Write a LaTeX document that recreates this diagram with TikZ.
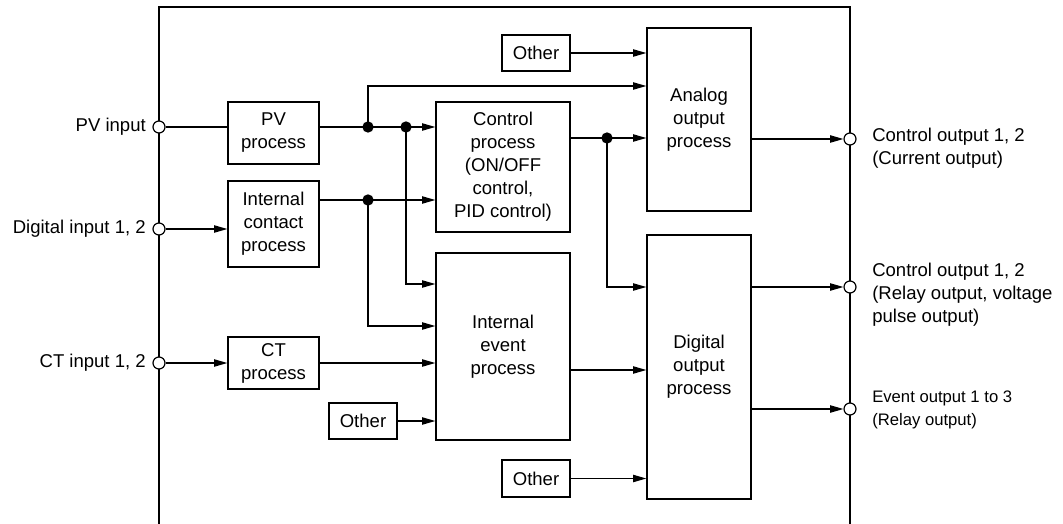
\documentclass[tikz,border=0pt]{standalone}
\usepackage{fontspec}
\setmainfont{Liberation Sans}
\usetikzlibrary{arrows.meta}
\begin{document}
\begin{tikzpicture}[x=0.75pt,y=-0.75pt,
 box/.style={draw,line width=1pt,inner sep=0pt,align=center,font=\fontsize{13.9pt}{17.25pt}\selectfont},
 port/.style={circle,draw,fill=white,line width=0.9pt,minimum size=9pt,inner sep=0pt},
 dot/.style={circle,fill,minimum size=8.5pt,inner sep=0pt},
 con/.style={line width=0.9pt},
 arr/.style={con,-{Triangle[length=10pt,width=5.5pt]}},
 lbl/.style={inner sep=0pt,font=\fontsize{13.9pt}{17.25pt}\selectfont,align=left},
 lbls/.style={inner sep=0pt,font=\fontsize{12.5pt}{17.25pt}\selectfont,align=left},
]
\useasboundingbox (0,0) rectangle (1063,524);
\draw[line width=2.2pt] (159,524) -- (159,7) -- (850,7) -- (850,524);

% boxes
\node[box,minimum width=68.25pt,minimum height=46.5pt] (pv) at (273.5,133) {PV\\process};
\node[box,minimum width=68.25pt,minimum height=64.5pt] (ic) at (273.5,224) {Internal\\contact\\process};
\node[box,minimum width=68.25pt,minimum height=39pt] (ct) at (273.5,363) {CT\\process};
\node[box,minimum width=100.5pt,minimum height=97.5pt] (ctrl) at (503,167) {Control\\process\\(ON/OFF\\control,\\PID control)};
\node[box,minimum width=51pt,minimum height=27pt] (o1) at (536,53) {Other};
\node[box,minimum width=78pt,minimum height=137.25pt] (an) at (699,119.5) {Analog\\output\\process};
\node[box,minimum width=100.5pt,minimum height=140.25pt] (ie) at (503,346.5) {Internal\\event\\process};
\node[box,minimum width=51pt,minimum height=27pt] (o2) at (363,421) {Other};
\node[box,minimum width=51pt,minimum height=27.75pt] (o3) at (536,478.5) {Other};
\node[box,minimum width=78pt,minimum height=198pt] (dg) at (699,367) {Digital\\output\\process};

% ports
\node[port] (pin) at (159,127) {};
\node[port] (din) at (159,229) {};
\node[port] (ctin) at (159,363) {};
\node[port] (out1) at (850,139) {};
\node[port] (out2) at (850,287) {};
\node[port] (out3) at (850,409) {};

% junction coordinates
\coordinate (j1) at (368,127);
\coordinate (j2) at (406,127);
\coordinate (j3) at (368,200);
\coordinate (j4) at (607,138);
\coordinate (k1) at (368,86);
\coordinate (k2) at (406,284);
\coordinate (k3) at (368,326);
\coordinate (k4) at (607,287);
\coordinate (ctrlout) at (570,138);
\coordinate (icout) at (319,200);
\coordinate (ieout) at (570,370);

% connectors
\draw[con] (pin.east) -- (pin -| pv.west);
\draw[arr] (din.east) -- (din -| ic.west);
\draw[arr] (ctin.east) -- (ctin -| ct.west);
\draw[arr] (pin -| pv.east) -- (pin -| ctrl.west);
\draw[arr] (j1) -- (k1) -- (k1 -| an.west);
\draw[arr] (j2) -- (k2) -- (k2 -| ie.west);
\draw[arr] (icout) -- (icout -| ctrl.west);
\draw[arr] (j3) -- (k3) -- (k3 -| ie.west);
\draw[arr] (ctin -| ct.east) -- (ctin -| ie.west);
\draw[arr] (o2.east) -- (o2.east -| ie.west);
\draw[arr] (o1.east) -- (o1.east -| an.west);
\draw[arr] (ctrlout) -- (ctrlout -| an.west);
\draw[arr] (j4) -- (k4) -- (k4 -| dg.west);
\draw[arr] (ieout) -- (ieout -| dg.west);
\draw[arr] (o3.east) -- (o3.east -| dg.west);
\draw[arr] (out1 -| an.east) -- (out1.west);
\draw[arr] (out2 -| dg.east) -- (out2.west);
\draw[arr] (out3 -| dg.east) -- (out3.west);

% dots
\node[dot] (d1) at (j1) {};
\node[dot] (d2) at (j2) {};
\node[dot] (d3) at (j3) {};
\node[dot] (d4) at (j4) {};

% labels
\node[lbl,anchor=east] (lpv) at (146,127) {PV input};
\node[lbl,anchor=east] (ldi) at (146,229) {Digital input 1, 2};
\node[lbl,anchor=east] (lct) at (146,363) {CT input 1, 2};
\node[lbl,anchor=west] (lo1) at (872,148) {Control output 1, 2\\(Current output)};
\node[lbl,anchor=west] (lo2) at (872,295) {Control output 1, 2\\(Relay output, voltage\\pulse output)};
\node[lbls,anchor=west] (lo3) at (872,410) {Event output 1 to 3\\(Relay output)};
\end{tikzpicture}
\end{document}
